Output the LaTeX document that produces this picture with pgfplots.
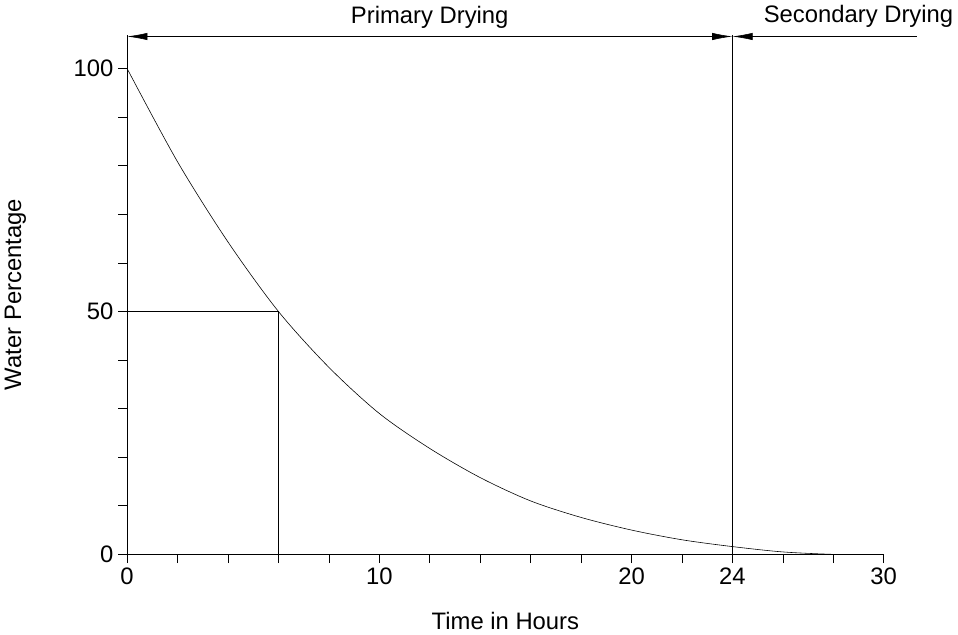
\documentclass[border=0pt]{standalone}
\usepackage{pgfplots}
\pgfplotsset{compat=1.18}
\usepackage{fontspec}
\setmainfont{Liberation Sans}
\usetikzlibrary{arrows.meta}
\begin{document}
\begin{tikzpicture}
\begin{axis}[
  scale only axis, width=524pt, height=360pt,
  xmin=0, xmax=30, ymin=0, ymax=107,
  axis lines=left, axis line style={-},
  xtick={0,10,20,24,30}, minor xtick={2,4,6,8,12,14,16,18,22,26,28},
  ytick={0,50,100}, minor ytick={10,20,30,40,60,70,80,90},
  tick align=outside, major tick length=6pt, minor tick length=6pt,
  tick style={black, thin},
  every tick label/.append style={font=\fontsize{16.5}{19}\selectfont},
  /pgf/number format/assume math mode=true,
  xlabel={Time in Hours}, ylabel={Water Percentage},
  label style={font=\fontsize{16.5}{19}\selectfont},
  xlabel style={yshift=-12pt}, ylabel style={yshift=26pt},
  clip=false,
]
\addplot[black, thin, smooth] coordinates {
 (0,100) (2,80.8) (4,64.3) (6,50) (8,38.5) (10,29) (12,21.8) (14,15.8) (16,11) (18,7.6) (20,5) (22,3) (24,1.6) (26,0.5) (28,0) (29,0)};
\addplot[black, thin] coordinates {(0,50) (6,50) (6,0)};
\addplot[black, thin] coordinates {(24,0) (24,107)};
\addplot[black, thin, {Latex[length=14pt,width=5pt]}-{Latex[length=14pt,width=5pt]}] coordinates {(0,106.6) (24,106.6)};
\addplot[black, thin, {Latex[length=14pt,width=5pt]}-] coordinates {(24,106.6) (31.3,106.6)};
\node[font=\fontsize{16.5}{19}\selectfont, above] at (axis cs:12,107.3) {Primary Drying};
\node[font=\fontsize{16.5}{19}\selectfont, above] at (axis cs:29,107.5) {Secondary Drying};
\end{axis}
\end{tikzpicture}
\end{document}
